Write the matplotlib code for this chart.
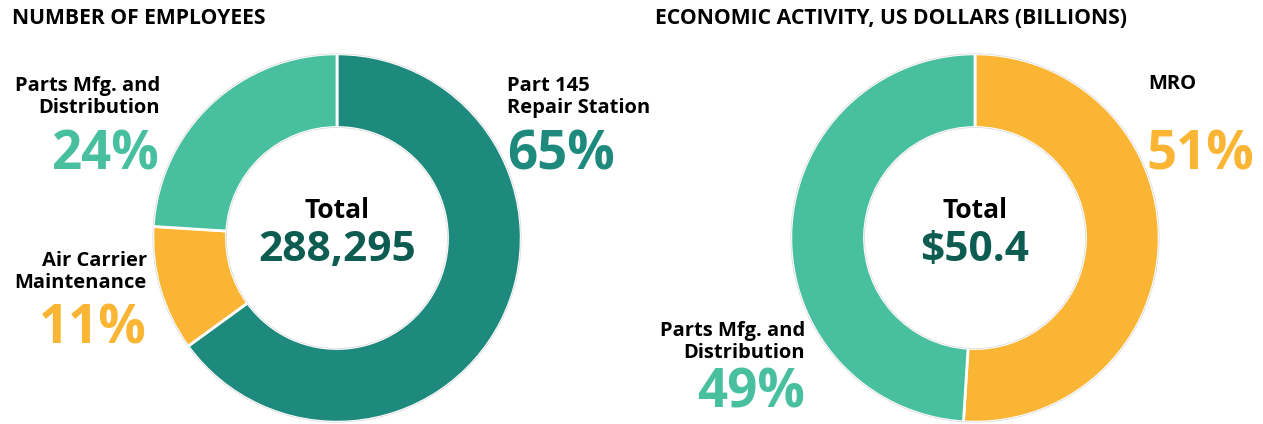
import matplotlib
matplotlib.use("Agg")
import matplotlib.pyplot as plt
from matplotlib.patches import Circle

plt.rcParams['font.family'] = ['Open Sans', 'DejaVu Sans']

# data
emp_labels = ["Part 145\nRepair Station", "Air Carrier\nMaintenance", "Parts Mfg. and\nDistribution"]
emp_share = [65, 11, 24]
emp_total = "288,295"

eco_labels = ["MRO", "Parts Mfg. and\nDistribution"]
eco_share = [51, 49]
eco_total = "$50.4"

DARK = "#1e8a7e"
LIGHT = "#48bf9e"
ORANGE = "#fbb535"
NUM = "#0d5c52"

W, H = 1263, 424
fig = plt.figure(figsize=(W / 100, H / 100), dpi=100)

def px(x, y):
    return x / W, 1 - y / H

def donut(cx, cy, r, values, colors):
    ax = fig.add_axes([(cx - r) / W, (H - cy - r) / H, 2 * r / W, 2 * r / H])
    ax.pie(values, colors=colors, startangle=90, counterclock=False, radius=1,
           wedgeprops=dict(width=0.40, edgecolor="white", linewidth=2))
    # faint grey rims seen in the original
    for rr in (1.0, 0.6):
        ax.add_patch(Circle((0, 0), rr, fill=False, edgecolor="#dddddd", linewidth=0.6))
    ax.set_xlim(-1.01, 1.01)
    ax.set_ylim(-1.01, 1.01)
    ax.set_aspect("equal")
    ax.axis("off")
    return ax

donut(337, 238, 186, emp_share, [DARK, ORANGE, LIGHT])
donut(975, 238, 186, eco_share, [ORANGE, LIGHT])

# titles
fig.text(*px(12, 19), "NUMBER OF EMPLOYEES", fontsize=15.2, fontweight="bold", va="center", ha="left")
fig.text(*px(655, 19), "ECONOMIC ACTIVITY, US DOLLARS (BILLIONS)", fontsize=15.2, fontweight="bold", va="center", ha="left")

def label(x, y, text, pct, color, ha, dy=58):
    fig.text(*px(x, y), text, fontsize=14.5, fontweight="bold", ha=ha, va="center", linespacing=1.1)
    fig.text(*px(x, y + dy), f"{pct}%", fontsize=38, fontweight="bold", ha=ha, va="center", color=color)

label(507, 97, emp_labels[0], emp_share[0], DARK, "left")
label(147, 272, emp_labels[1], emp_share[1], ORANGE, "right")
label(160, 97, emp_labels[2], emp_share[2], LIGHT, "right")

fig.text(*px(1148, 84), eco_labels[0], fontsize=14.5, fontweight="bold", ha="left", va="center")
fig.text(*px(1146, 155), f"{eco_share[0]}%", fontsize=38, fontweight="bold", ha="left", va="center", color=ORANGE)
label(805, 342, eco_labels[1], eco_share[1], LIGHT, "right", dy=52)

# centre totals
for cx, total in [(337, emp_total), (975, eco_total)]:
    fig.text(*px(cx, 211), "Total", fontsize=19, fontweight="bold", ha="center", va="center")
    fig.text(*px(cx, 250), total, fontsize=30.5, fontweight="bold", ha="center", va="center", color=NUM)

fig.savefig("out.png", dpi=100)
